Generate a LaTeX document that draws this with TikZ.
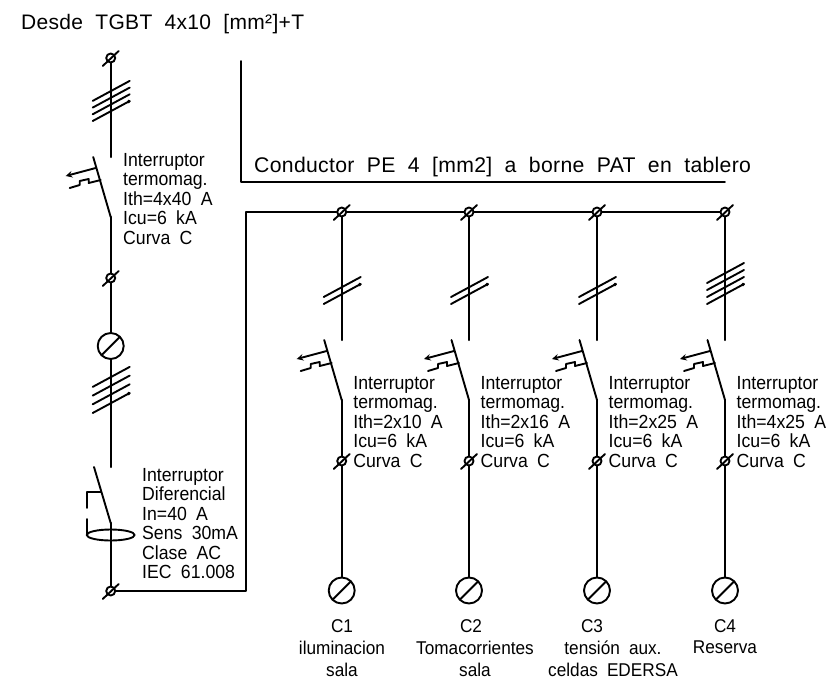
\documentclass[tikz,border=0pt]{standalone}
\usepackage{fontspec}
\setmainfont[FakeStretch=0.93,WordSpace=1.9]{Liberation Sans}
\newfontfamily\titlefont[LetterSpace=1.5,WordSpace=2]{Liberation Sans}
\tikzset{
  wire/.style={line width=2.2pt},
  tick/.style={line width=1.9pt},
  term/.style={circle,draw,fill=white,line width=1.9pt,inner sep=0pt,minimum size=9pt},
  fuse/.style={circle,draw,line width=1.9pt,inner sep=0pt,minimum size=26pt},
  lbl/.style={anchor=north west,inner sep=0pt,align=left,font=\fontsize{19}{19.5}\selectfont},
  foot/.style={anchor=north,inner sep=0pt,align=center,font=\fontsize{18.5}{22}\selectfont},
  title/.style={anchor=base west,inner sep=0pt,font=\titlefont\fontsize{21}{23}\selectfont}
}
\newcommand{\terminal}[3]{
  \node[term] (#1) at (#2,#3) {};
  \draw[tick] (#2-8,#3+8)--(#2+8,#3-7);
}
\newcommand{\fusible}[3]{
  \node[fuse] (#1) at (#2,#3) {};
  \draw[tick] (#2-9,#3+9)--(#2+9,#3-9);
}
\newcommand{\ticks}[4]{
  \foreach \k in {1,...,#3}{
    \draw[tick] (#1-18,{#2-(\k-1)*#4})--(#1+19,{#2-(\k-1)*#4-20});
  }
  \fill (#1+18,#2-19.5) circle (1.8);
}
\newcommand{\termomag}[3]{
  \coordinate (#1-top) at (#2,#3);
  \coordinate (#1-bot) at (#2,#3+60);
  \draw[tick] (#2-17.5,#3)--(#2,#3+60);
  \draw[tick,->] (#2-15,#3+11)--(#2-45,#3+19);
  \draw[tick] (#2-41,#3+31)--(#2-31,#3+28)--(#2-31,#3+24)--(#2-22,#3+22)--(#2-22,#3+26)--(#2-10,#3+23);
}
\begin{document}
\begin{tikzpicture}[x=1pt,y=-1pt,line join=round,line cap=round,>=stealth]
\useasboundingbox (0,0) rectangle (832,680);
\def\xa{110.7}
\node[title] (origen) at (21,29) {Desde TGBT 4x10 [mm²]+T};
\node[title,font=\titlefont\fontsize{21.2}{23}\selectfont] (pe) at (254,172) {Conductor PE 4 [mm2] a borne PAT en tablero};
\coordinate (peA) at (241,61);
\coordinate (peB) at (241,182);
\coordinate (peC) at (725,182);
\draw[tick] (peA)--(peB)--(peC);
% columna de entrada
\terminal{tA}{\xa}{58}
\ticks{\xa}{121}{4}{6.7}
\termomag{qA}{\xa}{157}
\terminal{tB}{\xa}{278}
\fusible{fA}{\xa}{346}
\ticks{\xa}{413}{4}{8.7}
\coordinate (dTop) at (\xa,467);
\coordinate (dBot) at (\xa,523);
\terminal{tC}{\xa}{591}
\draw[wire] (tA)--(qA-top) (qA-bot)--(tB)--(fA)--(dTop) (dBot)--(tC);
\draw[tick] (94,467)--(dBot);
\draw[tick] (100.7,492)--(87,492)--(87,508) (87,519)--(87,535);
\draw[tick] (\xa,535) ellipse [x radius=24,y radius=5.5];
\node[lbl] (lblA) at (123,153) {Interruptor\\termomag.\\Ith=4x40 A\\Icu=6 kA\\Curva C};
\node[lbl] (lblD) at (142,468) {Interruptor\\Diferencial\\In=40 A\\Sens 30mA\\Clase AC\\IEC 61.008};
% barra
\coordinate (cA) at (246,591);
\coordinate (cB) at (246,212);
\terminal{b1}{341.7}{212}
\terminal{b2}{469}{212}
\terminal{b3}{597}{212}
\terminal{b4}{725}{212}
\draw[wire] (tC)--(cA)--(cB)--(b1)--(b2)--(b3)--(b4);
% salidas
\foreach \i/\xs/\nh/\corr in {1/341.7/2/2x10,2/469/2/2x16,3/597/2/2x25,4/725/4/4x25}{
  \ticks{\xs}{304}{\nh}{7}
  \termomag{q\i}{\xs}{340}
  \terminal{s\i}{\xs}{461}
  \fusible{f\i}{\xs}{590.5}
  \draw[wire] (b\i)--(q\i-top) (q\i-bot)--(s\i)--(f\i);
  \node[lbl] (lbl\i) at (\xs+11.5,376) {Interruptor\\termomag.\\Ith=\corr{} A\\Icu=6 kA\\Curva C};
}
\node[foot] (c1) at (342,619) {C1};
\node[foot] (c2) at (471,619) {C2};
\node[foot] (c3) at (592,619) {C3};
\node[foot] (c4) at (725,619) {C4};
\node[foot] (d1) at (342,641) {iluminacion\\sala};
\node[foot] (d2) at (475,641) {Tomacorrientes\\sala};
\node[foot] (d3) at (613,641) {tensión aux.\\celdas EDERSA};
\node[foot] (d4) at (725,641) {Reserva};
\end{tikzpicture}
\end{document}
